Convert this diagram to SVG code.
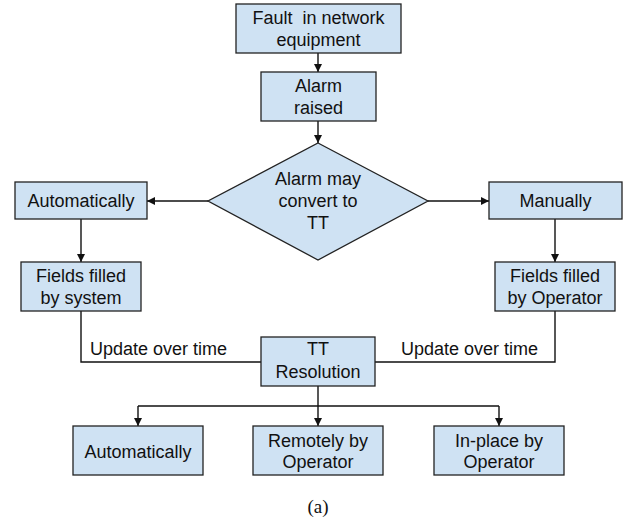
<svg xmlns="http://www.w3.org/2000/svg" width="631" height="518" viewBox="0 0 631 518">
<style>
.box{fill:#cfe2f3;stroke:#222;stroke-width:1.3}
.t{font-family:"Liberation Sans",Arial,sans-serif;font-size:18px;fill:#111;text-anchor:middle;white-space:pre}
.lbl{font-family:"Liberation Sans",Arial,sans-serif;font-size:18px;fill:#111}
.c{fill:none;stroke:#111;stroke-width:1.4}
.cap{font-family:"Liberation Serif","Times New Roman",serif;font-size:19px;fill:#111;text-anchor:middle}
</style>
<defs>
<marker id="ah" markerUnits="userSpaceOnUse" markerWidth="10" markerHeight="10" refX="8" refY="4" orient="auto">
<path d="M0,0 L8,4 L0,8 z" fill="#111"/>
</marker>
</defs>
<rect width="631" height="518" fill="#fff"/>
<g id="connectors">
<line class="c" x1="318" y1="53" x2="318" y2="72" marker-end="url(#ah)"/>
<line class="c" x1="318" y1="121" x2="318" y2="143" marker-end="url(#ah)"/>
<line class="c" x1="208" y1="201" x2="147" y2="201" marker-end="url(#ah)"/>
<line class="c" x1="428" y1="201" x2="489" y2="201" marker-end="url(#ah)"/>
<line class="c" x1="81" y1="219" x2="81" y2="262" marker-end="url(#ah)"/>
<line class="c" x1="555" y1="219" x2="555" y2="262" marker-end="url(#ah)"/>
<polyline class="c" points="81,311 81,362 261,362"/>
<polyline class="c" points="555,311 555,362 375,362"/>
<line class="c" x1="318" y1="386" x2="318" y2="426" marker-end="url(#ah)"/>
<line class="c" x1="138" y1="406" x2="499" y2="406"/>
<line class="c" x1="138" y1="406" x2="138" y2="426" marker-end="url(#ah)"/>
<line class="c" x1="499" y1="406" x2="499" y2="426" marker-end="url(#ah)"/>
<text class="lbl" x="90" y="355">Update over time</text>
<text class="lbl" x="401" y="355">Update over time</text>
</g>
<g id="fault">
<rect class="box" x="236" y="4" width="165" height="49"/>
<text class="t" x="318.5" y="24">Fault  in network</text>
<text class="t" x="318.5" y="46">equipment</text>
</g>
<g id="alarm">
<rect class="box" x="261" y="72" width="115" height="49"/>
<text class="t" x="318.5" y="92">Alarm</text>
<text class="t" x="318.5" y="113.5">raised</text>
</g>
<g id="decision">
<polygon class="box" points="318,143 428,201 318,260 208,201"/>
<text class="t" x="318" y="185">Alarm may</text>
<text class="t" x="318" y="207">convert to</text>
<text class="t" x="318" y="229">TT</text>
</g>
<g id="auto1">
<rect class="box" x="15" y="182" width="132" height="37"/>
<text class="t" x="81" y="207">Automatically</text>
</g>
<g id="manual">
<rect class="box" x="489" y="182" width="133" height="37"/>
<text class="t" x="555.5" y="207">Manually</text>
</g>
<g id="fields-system">
<rect class="box" x="21" y="262" width="120" height="49"/>
<text class="t" x="81" y="282">Fields filled</text>
<text class="t" x="81" y="304">by system</text>
</g>
<g id="fields-operator">
<rect class="box" x="495" y="262" width="120" height="49"/>
<text class="t" x="555" y="282">Fields filled</text>
<text class="t" x="555" y="304">by Operator</text>
</g>
<g id="tt-resolution">
<rect class="box" x="261" y="337" width="114" height="49"/>
<text class="t" x="318" y="355">TT</text>
<text class="t" x="318" y="378">Resolution</text>
</g>
<g id="auto2">
<rect class="box" x="73" y="426" width="130" height="49"/>
<text class="t" x="138" y="458">Automatically</text>
</g>
<g id="remote">
<rect class="box" x="253" y="426" width="130" height="49"/>
<text class="t" x="318" y="447">Remotely by</text>
<text class="t" x="318" y="468">Operator</text>
</g>
<g id="inplace">
<rect class="box" x="434" y="426" width="130" height="49"/>
<text class="t" x="499" y="447">In-place by</text>
<text class="t" x="499" y="468">Operator</text>
</g>
<text class="cap" x="318" y="513">(a)</text>
</svg>
